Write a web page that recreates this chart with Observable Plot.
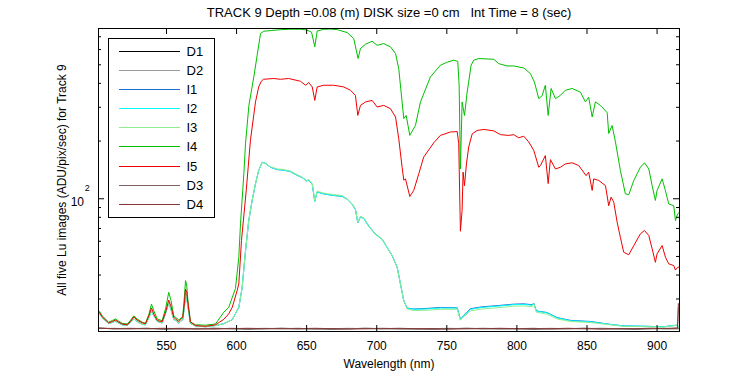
<!DOCTYPE html>
<html><head><meta charset="utf-8">
<script src="https://cdn.jsdelivr.net/npm/d3@7"></script>
<script src="https://cdn.jsdelivr.net/npm/@observablehq/plot@0.6"></script>
<style>
body{margin:0;background:#fff}
svg{font-family:"Liberation Sans",Arial,sans-serif}
svg text{white-space:pre}
</style>
</head><body><div id="chart"></div>
<script>
const titleText = "TRACK 9 Depth =0.08 (m) DISK size =0 cm   Int Time = 8 (sec)";
const xLabel = "Wavelength (nm)";
const yLabel = "All five Lu images (ADU/pix/sec) for Track 9";
const xTicks = [550, 600, 650, 700, 750, 800, 850, 900];
const yMajor = [100];
const yMinor = [30, 40, 50, 60, 70, 80, 90, 200, 300, 400, 500, 600, 700];
const seriesNames = ["D1", "D2", "I1", "I2", "I3", "I4", "I5", "D3", "D4"];
const seriesColors = ["#000000", "#999999", "#1e6fd0", "#00ffff", "#90ee90", "#00c000", "#ee0000", "#806060", "#883838"];

// dark frames
const darkWl = [501.5, 512, 524, 536, 548, 560, 572, 584, 596, 608, 620, 632, 644, 656, 668, 680, 692, 704, 716, 728, 740, 752, 764, 776, 788, 800, 812, 824, 836, 848, 860, 872, 884, 896, 908, 914.6, 915.2, 915.9];
const d1Val = [21.1, 21.0, 21.0, 21.1, 20.9, 21.0, 21.0, 21.1, 21.0, 20.9, 21.0, 21.1, 21.0, 21.0, 20.9, 21.0, 21.1, 21.0, 21.0, 21.0, 20.9, 21.0, 21.1, 21.0, 21.0, 21.0, 20.9, 21.0, 21.0, 21.1, 21.0, 21.0, 20.9, 21.0, 21.0, 21.0, 21.0, 21.0];
const d2Val = [21.0, 21.1, 21.0, 21.0, 21.0, 20.9, 21.1, 21.0, 21.0, 21.0, 21.1, 21.0, 20.9, 21.0, 21.0, 21.1, 21.0, 21.0, 20.9, 21.0, 21.0, 21.1, 21.0, 21.0, 20.9, 21.0, 21.0, 21.1, 21.0, 21.0, 21.0, 20.9, 21.0, 21.1, 21.0, 21.0, 21.0, 21.0];
const d3Val = [21.2, 21.0, 21.1, 21.0, 21.0, 21.1, 21.0, 20.9, 21.1, 21.0, 21.0, 21.0, 21.1, 20.9, 21.0, 21.0, 21.0, 21.1, 21.0, 20.9, 21.0, 21.0, 21.0, 21.1, 21.0, 21.0, 21.1, 20.9, 21.0, 21.0, 21.1, 21.0, 21.0, 21.0, 21.1, 21.1, 27.0, 26.5];
const d4Val = [21.1, 21.0, 21.0, 21.0, 21.1, 21.0, 20.9, 21.0, 21.0, 21.1, 21.0, 21.0, 21.0, 21.1, 21.0, 20.9, 21.0, 21.0, 21.1, 21.0, 21.0, 20.9, 21.0, 21.0, 21.1, 21.0, 21.0, 21.0, 21.1, 21.0, 20.9, 21.0, 21.0, 21.1, 21.0, 21.2, 28.4, 28.0];

// wavelengths of the blue-green emission region, shared by I1..I5
const baseWl = [502.2, 504.1, 508.8, 511.5, 513.6, 515.5, 518.4, 522.0, 524.5, 526.7,
  529.0, 532.7, 535.0, 537.5, 539.3, 541.0, 543.4, 546.9, 549.5, 551.6,
  553.2, 555.2, 558.8, 561.6, 562.8, 563.6, 564.4, 565.5, 567.1, 570.7];

// lower curves I1, I2, I3
const lowWl = [...baseWl,
  577.8, 584.9, 590.9, 596.9, 601.6, 604.0, 606.4, 608.7, 611.1, 613.5,
  615.8, 618.3, 620.6, 624.2, 629.0, 633.7, 638.5, 642.0, 646.8, 649.9,
  651.5, 654.0, 655.8, 657.5, 662.2, 669.3, 675.3, 678.9, 682.5, 684.8,
  686.5, 688.4, 690.7, 694.3, 699.1, 703.9, 707.4, 711.0, 714.6, 716.9,
  719.3, 721.7, 726.4, 736.0, 745.4, 757.4, 759.7, 762.1, 766.9, 775.0,
  785.9, 797.7, 805.0, 810.8, 812.0, 813.9, 821.5, 828.7, 838.2, 852.5,
  866.7, 876.2, 892.9, 904.7, 914.3, 915.9];
const i3Val = [25.2, 24.0, 22.3, 22.7, 23.0, 22.5, 22.0, 21.9, 22.8, 23.6,
  22.9, 22.1, 22.0, 24.0, 26.0, 24.5, 22.9, 22.5, 25.5, 28.6,
  26.5, 23.5, 22.5, 23.4, 27.5, 32.0, 30.5, 26.8, 22.4, 21.7,
  21.5, 21.8, 22.3, 23.4, 27.1, 34.5, 53.7, 77, 98, 119.8,
  140.6, 155, 153, 147, 143, 142, 139.4, 135, 129.7, 124.6,
  126, 119.8, 98, 109.6, 107, 105, 104, 100, 94, 88.7,
  75.5, 80.8, 79.6, 72.5, 65.6, 61.8, 55.9, 50.6, 43.9, 36.0,
  29.4, 26.6, 26.1, 26.2, 26.5, 26.5, 23.3, 24.2, 26.0, 26.6,
  27.0, 27.5, 27.6, 27.3, 28.3, 25.6, 25.0, 23.6, 22.9, 22.6,
  22.0, 21.6, 21.5, 21.4, 21.9, 21.2];
const i2Val = [25.2, 24.0, 22.3, 22.7, 23.0, 22.5, 22.0, 21.9, 22.8, 23.6,
  22.9, 22.1, 22.0, 24.0, 26.0, 24.5, 22.9, 22.5, 25.5, 28.6,
  26.5, 23.5, 22.5, 23.4, 27.5, 32.0, 30.5, 26.8, 22.4, 21.7,
  21.5, 21.8, 22.3, 23.4, 27.1, 34.5, 53.7, 77, 98, 119.8,
  140.6, 155, 153, 146, 142, 141, 138.5, 134, 129, 124,
  125, 119, 97, 108.5, 106, 104, 103, 99.5, 93.5, 88,
  75, 80.5, 79, 72, 65.3, 61.5, 55.7, 50.5, 43.9, 36.0,
  29.4, 26.8, 26.5, 26.6, 26.9, 26.9, 23.4, 24.5, 26.5, 27.1,
  27.5, 28.0, 28.1, 27.8, 28.5, 25.9, 25.4, 23.9, 23.1, 22.8,
  22.1, 21.7, 21.6, 21.5, 21.9, 21.2];
const i1Val = [25.2, 24.0, 22.3, 22.7, 23.0, 22.5, 22.0, 21.9, 22.8, 23.6,
  22.9, 22.1, 22.0, 24.0, 26.0, 24.5, 22.9, 22.5, 25.5, 28.6,
  26.5, 23.5, 22.5, 23.4, 27.5, 32.0, 30.5, 26.8, 22.4, 21.7,
  21.5, 21.8, 22.3, 23.4, 27.1, 34.5, 53.7, 77, 98, 119.8,
  140.6, 155, 153, 146, 142, 141, 138.5, 134, 129, 124,
  125, 119, 97, 108.5, 106, 104, 103, 99.5, 93.5, 88,
  75, 80.5, 79, 72, 65.3, 61.5, 55.7, 50.5, 43.9, 36.0,
  29.4, 26.9, 26.6, 26.8, 27.1, 27.0, 23.5, 24.6, 26.7, 27.3,
  27.7, 28.2, 28.3, 28.0, 28.6, 26.0, 25.5, 24.0, 23.2, 22.9,
  22.1, 21.7, 21.6, 21.5, 21.9, 21.2];

// I4 (green)
const i4Wl = [...baseWl,
  577.8, 584.9, 590.9, 594.4, 599.2, 601.6, 602.8, 605.2, 606.4, 608.8,
  612.3, 614.7, 617.1, 619.4, 625.0, 631.3, 638.0, 645.6, 650.0, 653.5,
  655.8, 657.5, 662.0, 667.0, 672.0, 678.9, 683.6, 686.7, 688.4, 692.0,
  696.7, 700.3, 705.0, 709.8, 713.4, 715.7, 718.1, 719.3, 721.0, 723.6,
  727.6, 731.2, 738.3, 745.4, 750.0, 754.9, 757.8, 758.8, 759.7, 760.9,
  762.6, 764.5, 765.6, 767.3, 769.2, 772.8, 783.5, 787.0, 793.0, 797.7,
  804.9, 809.6, 812.5, 815.6, 818.0, 820.3, 822.3, 824.4, 827.5, 831.0,
  834.6, 839.4, 845.3, 848.9, 851.2, 853.7, 856.0, 859.6, 864.4, 865.5,
  867.9, 870.3, 873.8, 877.4, 879.8, 883.4, 888.1, 891.0, 894.1, 896.5,
  898.8, 900.0, 903.6, 906.0, 908.3, 911.9, 913.1, 914.7, 915.9];
const i4Val = [25.9, 24.5, 22.7, 23.2, 23.6, 23.1, 22.4, 22.2, 23.3, 24.5,
  23.6, 22.7, 22.4, 25.0, 28.2, 26.0, 23.6, 23.1, 27.0, 32.5,
  29.5, 24.5, 23.3, 24.3, 31.0, 37.4, 35.5, 28.2, 22.7, 22.0,
  21.9, 22.2, 25.6, 27.1, 34, 49.5, 74, 135, 195, 307,
  432, 561, 728, 748, 755, 762, 766, 766, 760, 740,
  620, 750, 765, 768, 762, 736, 685, 539, 608, 640,
  663, 632, 645, 620, 572, 478, 320, 262, 272, 214,
  241, 320, 432, 497, 515, 528, 521, 391, 143, 320,
  272, 360, 406, 497, 528, 539, 534, 507, 493, 493,
  481, 450, 406, 333, 345, 391, 272, 376, 333, 346,
  368, 376, 360, 320, 339, 267, 320, 307, 281, 219,
  241, 198, 140.6, 106, 105, 124.6, 146, 154, 143, 117,
  98, 110.5, 127, 110, 94, 92, 77, 83.5, 85];

// I5 (red)
const i5Wl = [...baseWl,
  577.8, 584.9, 590.9, 594.4, 596.9, 600.4, 601.6, 603.5, 606.9, 609.9,
  613.5, 615.8, 617.6, 619.2, 626.5, 631.3, 637.2, 645.6, 649.2, 651.5,
  654.0, 655.8, 657.5, 662.2, 669.3, 676.5, 681.3, 684.8, 686.5, 688.4,
  692.0, 696.7, 700.3, 705.0, 709.8, 713.4, 715.7, 718.1, 719.3, 720.5,
  723.6, 726.4, 730.0, 733.5, 740.7, 745.4, 752.6, 757.4, 758.5, 759.7,
  760.9, 761.6, 762.6, 764.0, 765.6, 768.1, 771.6, 776.4, 783.5, 788.3,
  794.2, 797.7, 801.3, 804.9, 808.4, 812.0, 815.6, 816.8, 820.3, 822.3,
  823.9, 827.5, 831.0, 834.6, 839.4, 844.1, 849.4, 851.2, 853.7, 854.8,
  858.4, 863.2, 865.5, 867.2, 869.1, 871.5, 873.8, 876.2, 879.8, 883.4,
  888.1, 891.0, 894.1, 896.5, 898.8, 900.0, 903.6, 906.0, 908.3, 911.9,
  913.1, 914.7, 915.9];
const i5Val = [25.5, 24.2, 22.5, 22.9, 23.3, 22.8, 22.2, 22.0, 23.0, 24.2,
  23.3, 22.5, 22.3, 24.6, 26.9, 25.0, 23.2, 22.8, 25.8, 29.6,
  27.5, 24.0, 22.9, 24.0, 28.5, 33.8, 32.5, 28.0, 22.8, 21.8,
  21.6, 22.0, 23.5, 25.1, 27.1, 33.2, 36, 60.5, 110.5, 202,
  320, 383, 410, 420, 424, 420, 424, 410, 391, 404,
  383, 326, 383, 391, 391, 383, 368, 346, 272, 307,
  320, 326, 301, 307, 295, 267, 206, 146, 125, 127,
  102.8, 110.5, 135, 165, 196, 214, 223, 224, 194, 67.7,
  86.9, 137.7, 117, 152, 186, 218, 227, 230, 226, 216,
  214, 216, 208, 212, 198, 179, 146, 149, 168, 120,
  160, 143, 146, 152, 154, 149, 132, 137.7, 110.5, 127,
  124.6, 117, 92, 102, 96, 75.5, 63, 52.6, 51, 57,
  65.6, 68.3, 64.3, 54.8, 46.6, 51.6, 57, 49.5, 45.8, 44.8,
  42.5, 43.9, 44];

const seriesWl = [darkWl, darkWl, lowWl, lowWl, lowWl, i4Wl, i5Wl, darkWl, darkWl];
const seriesVal = [d1Val, d2Val, i1Val, i2Val, i3Val, i4Val, i5Val, d3Val, d4Val];

const W = 750, H = 375, mL = 98, mR = 71, mT = 28, mB = 44;
const fw = W - mL - mR, fh = H - mT - mB;

const lineMarks = seriesNames.map((name, k) =>
  Plot.line(seriesWl[k].map((w, i) => ({wl: w, v: seriesVal[k][i]})),
    {x: "wl", y: "v", stroke: seriesColors[k], strokeWidth: 1, clip: true}));

const chart = Plot.plot({
  width: W, height: H,
  marginLeft: mL, marginRight: mR, marginTop: mT, marginBottom: mB,
  style: {fontFamily: "Liberation Sans, Arial, sans-serif", fontSize: "12px", color: "black", background: "white"},
  x: {domain: [501.5, 916], axis: null},
  y: {type: "log", domain: [20.3, 773], axis: null},
  marks: [
    ...lineMarks,
    Plot.frame({stroke: "black", strokeWidth: 1}),
    Plot.tickX(xTicks, {x: d => d, insetTop: fh - 6, stroke: "black"}),
    Plot.tickX(xTicks, {x: d => d, insetBottom: fh - 6, stroke: "black"}),
    Plot.tickY(yMajor, {y: d => d, insetRight: fw - 6, stroke: "black"}),
    Plot.tickY(yMajor, {y: d => d, insetLeft: fw - 6, stroke: "black"}),
    Plot.tickY(yMinor, {y: d => d, insetRight: fw - 3, stroke: "black"}),
    Plot.tickY(yMinor, {y: d => d, insetLeft: fw - 3, stroke: "black"}),
    Plot.axisX(xTicks, {tickSize: 0, tickPadding: 10, fontSize: 12, label: null, fill: "black"}),
    Plot.text(yMajor, {y: d => d, frameAnchor: "left", dx: -14.5, dy: 3, text: () => "10", textAnchor: "end", fontSize: 12, fill: "black"}),
    Plot.text(yMajor, {y: d => d, frameAnchor: "left", dx: -13.7, dy: -11, text: () => "2", textAnchor: "start", fontSize: 9, fill: "black"}),
    Plot.text([yLabel], {text: d => d, frameAnchor: "left", textAnchor: "middle", lineAnchor: "middle", rotate: -90, dx: -36, fontSize: 12, fill: "black"}),
    Plot.text([xLabel], {text: d => d, frameAnchor: "bottom", lineAnchor: "middle", dy: 33, fontSize: 12, fill: "black"}),
    Plot.text([titleText], {text: d => d, frameAnchor: "top", lineAnchor: "middle", dy: -16, fontSize: 13, fill: "black"})
  ]
});

document.getElementById("chart").appendChild(chart);

// legend box
const svg = d3.select(chart);
const leg = svg.append("g").attr("text-anchor", "start");
leg.append("rect").attr("x", 108.5).attr("y", 38.5).attr("width", 106).attr("height", 179)
  .attr("fill", "white").attr("stroke", "black");
seriesNames.forEach((name, i) => {
  const yy = Math.round(50.7 + i * 19.15) + 0.5;
  leg.append("line").attr("x1", 119).attr("x2", 180).attr("y1", yy).attr("y2", yy)
    .attr("stroke", seriesColors[i]).attr("stroke-width", 1);
  leg.append("text").attr("x", 186.5).attr("y", yy).attr("dy", "0.35em")
    .attr("text-anchor", "start").attr("font-size", 13).attr("fill", "black").text(name);
});
</script>
</body></html>
